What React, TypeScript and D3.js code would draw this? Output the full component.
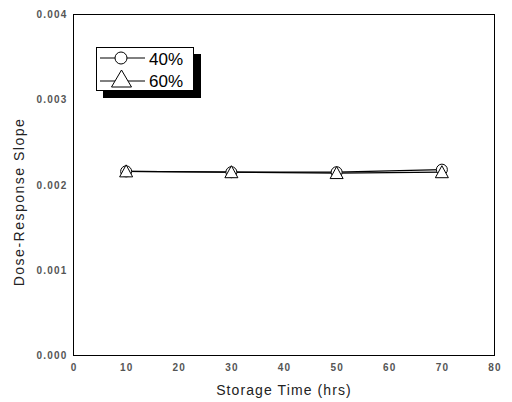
import React from "react";
import * as d3 from "d3";

const xValues = [10, 30, 50, 70];
const series40 = [0.00216, 0.00215, 0.00215, 0.00218];
const series60 = [0.00216, 0.00215, 0.00214, 0.00215];
const xTicks = [0, 10, 20, 30, 40, 50, 60, 70, 80];
const yTicks = [0, 0.001, 0.002, 0.003, 0.004];
const legendLabels = ["40%", "60%"];

const W = 512, H = 402;
const M = { left: 73.5, right: 494.5, top: 14.5, bottom: 355.5 };

export default function App() {
  const x = d3.scaleLinear().domain([0, 80]).range([M.left, M.right]);
  const y = d3.scaleLinear().domain([0, 0.004]).range([M.bottom, M.top]);
  const line = d3.line<number>().x((_, i) => x(xValues[i])).y((d) => y(d));
  const tri = (cx: number, top: number, hw: number, h: number) =>
    `M${cx},${top}L${cx + hw},${top + h}L${cx - hw},${top + h}Z`;
  const font = "Liberation Sans, Arial, sans-serif";
  return (
    <svg width={W} height={H} style={{ position: "absolute", left: 0, top: 0 }}>
      <rect width={W} height={H} fill="#fff" />
      <rect x={M.left} y={M.top} width={M.right - M.left} height={M.bottom - M.top} fill="none" stroke="#000" strokeWidth={1} />
      {xTicks.map((t) => (
        <text key={t} x={x(t) + 0.6} y={371} textAnchor="middle" fontFamily={font} fontSize={10} fontWeight="bold" letterSpacing={1.2} fill="#555">{t}</text>
      ))}
      {yTicks.map((t) => (
        <text key={t} x={67.5} y={y(t) + 3.5} textAnchor="end" fontFamily={font} fontSize={10} fontWeight="bold" letterSpacing={1.2} fill="#555">{t.toFixed(3)}</text>
      ))}
      <text x={284} y={395} textAnchor="middle" fontFamily={font} fontSize={14} letterSpacing={1.1} fill="#222">Storage Time (hrs)</text>
      <text transform={`translate(24,202) rotate(-90)`} textAnchor="middle" fontFamily={font} fontSize={14} letterSpacing={1.5} fill="#222">Dose-Response Slope</text>
      <path d={line(series40) || ""} fill="none" stroke="#000" strokeWidth={1.2} />
      <path d={line(series60) || ""} fill="none" stroke="#000" strokeWidth={1.2} />
      {series40.map((v, i) => (
        <circle key={"c" + i} cx={x(xValues[i])} cy={y(v)} r={5.5} fill="#fff" stroke="#000" strokeWidth={1} />
      ))}
      {series60.map((v, i) => (
        <path key={"t" + i} d={tri(x(xValues[i]), y(v) - 6.5, 6.5, 12)} fill="#fff" stroke="#000" strokeWidth={1} />
      ))}
      <rect x={103} y={54} width={98} height={44} fill="#000" />
      <rect x={96.5} y={47.5} width={97} height={43} fill="#fff" stroke="#000" strokeWidth={1} />
      <line x1={100} x2={145} y1={58} y2={58} stroke="#000" strokeWidth={1} />
      <circle cx={121} cy={58} r={6} fill="#fff" stroke="#000" strokeWidth={1} />
      <line x1={100} x2={145} y1={81} y2={81} stroke="#000" strokeWidth={1} />
      <path d={tri(121.5, 70, 10, 17)} fill="#fff" stroke="#000" strokeWidth={1} />
      {legendLabels.map((l, i) => (
        <text key={l} x={149} y={65 + i * 22} fontFamily={font} fontSize={17} fill="#000">{l}</text>
      ))}
    </svg>
  );
}
